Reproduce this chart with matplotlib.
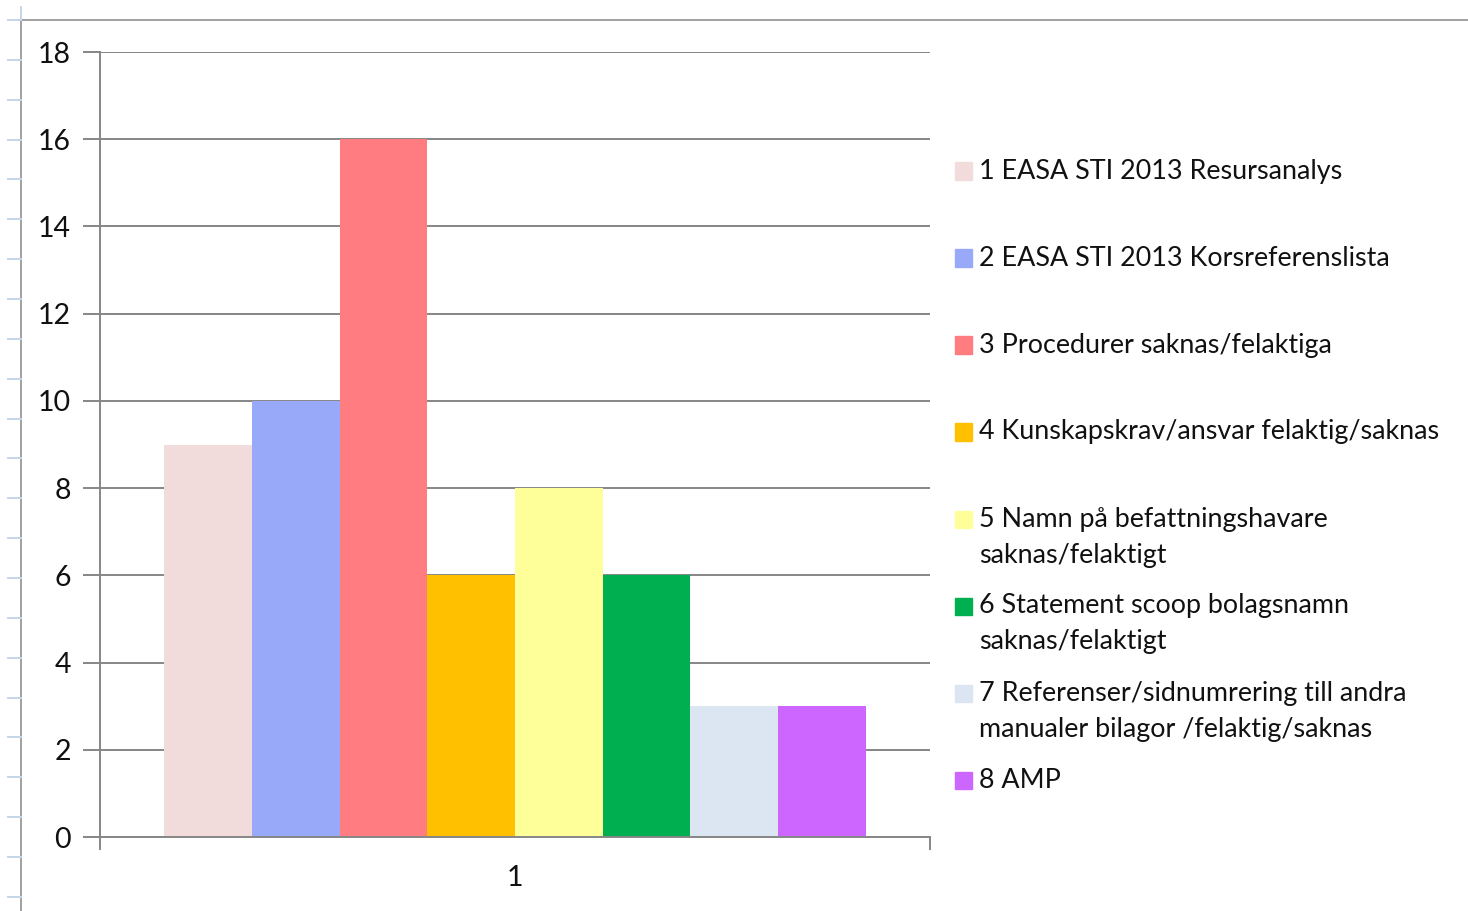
import matplotlib.pyplot as plt
from matplotlib.lines import Line2D
from matplotlib.patches import Rectangle

plt.rcParams["font.family"] = ["Lato", "DejaVu Sans"]

categories = ["1"]
labels = [
    "1 EASA STI 2013 Resursanalys",
    "2 EASA STI 2013 Korsreferenslista",
    "3 Procedurer saknas/felaktiga",
    "4 Kunskapskrav/ansvar felaktig/saknas",
    "5 Namn på befattningshavare\nsaknas/felaktigt",
    "6 Statement scoop bolagsnamn\nsaknas/felaktigt",
    "7 Referenser/sidnumrering till andra\nmanualer bilagor /felaktig/saknas",
    "8 AMP",
]
values = [9, 10, 16, 6, 8, 6, 3, 3]
colors = ["#F2DCDB", "#99A9F9", "#FF7C80", "#FFC000",
          "#FFFF99", "#00B050", "#DCE6F2", "#CC66FF"]
yticks = [0, 2, 4, 6, 8, 10, 12, 14, 16, 18]

W, H = 1468, 911
fig = plt.figure(figsize=(W / 100, H / 100), dpi=100)
ax = fig.add_axes([100 / W, 74 / H, 830 / W, 785 / H])

axis_grey = "#868686"
n = len(values)
bw = 0.1057
start = -bw * n / 2
for i, (v, c) in enumerate(zip(values, colors)):
    ax.bar(start + bw * (i + 0.5), v, width=bw, color=c, zorder=2)

ax.set_xlim(-0.5, 0.5)
ax.set_ylim(0, 18)
ax.set_yticks(yticks)
ax.yaxis.grid(True, color=axis_grey, linewidth=1.4, zorder=0)
ax.set_axisbelow(True)
ax.tick_params(axis="y", length=12, width=1.4, color=axis_grey, labelsize=20.5,
               pad=9, labelcolor="#111111")
ax.set_xticks([-0.5, 0.5])
ax.set_xticklabels(["", ""])
ax.set_xticks([0], labels=categories, minor=True)
ax.tick_params(axis="x", which="major", length=9, width=1.4, color=axis_grey)
ax.tick_params(axis="x", which="minor", length=0, labelsize=20.5, pad=20,
               labelcolor="#111111")
for s in ["top", "right"]:
    ax.spines[s].set_visible(False)
for s in ["left", "bottom"]:
    ax.spines[s].set_color(axis_grey)
    ax.spines[s].set_linewidth(1.4)

# legend, placed by hand like the spreadsheet does it
top_y = 171
step = 87
line_h = 36
for i, (lab, c) in enumerate(zip(labels, colors)):
    yc = top_y + step * i
    fig.patches.append(Rectangle((955 / W, 1 - (yc + 8.5) / H), 17 / W, 17 / H,
                                 transform=fig.transFigure, color=c))
    for j, line in enumerate(lab.split("\n")):
        fig.text(979 / W, 1 - (yc + line_h * j) / H, line, fontsize=19.4,
                 va="center", ha="left", color="#111111")

# sheet frame
frame = "#a0a0a0"
fig.add_artist(Line2D([21 / W, 1], [1 - 20 / H, 1 - 20 / H], color=frame, lw=1.4))
fig.add_artist(Line2D([21 / W, 21 / W], [0, 1 - 20 / H], color=frame, lw=1.4))
fig.add_artist(Line2D([21 / W, 21 / W], [1 - 20 / H, 1 - 7 / H], color="#c5d5ea", lw=1.4))
y = 20.0
while y < H:
    fig.add_artist(Line2D([8 / W, 21 / W], [1 - y / H, 1 - y / H], color="#c5d5ea", lw=1.4))
    y += 39.86

fig.savefig("out.png", dpi=100)
